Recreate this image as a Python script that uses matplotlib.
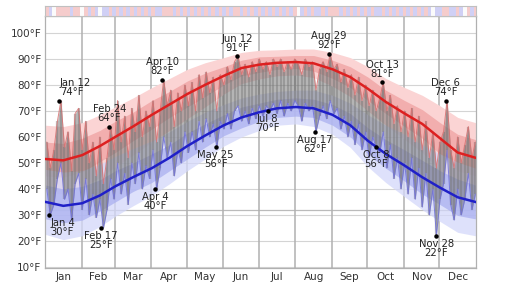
import numpy as np
import matplotlib
matplotlib.use("Agg")
import matplotlib.pyplot as plt

# ---------------- data ----------------
month_labels = ["Jan", "Feb", "Mar", "Apr", "May", "Jun",
                "Jul", "Aug", "Sep", "Oct", "Nov", "Dec"]
month_lengths = [31, 28, 31, 30, 31, 30, 31, 31, 30, 31, 30, 31]
ytick_values = [10, 20, 30, 40, 50, 60, 70, 80, 90, 100]
ytick_labels = ["10°F", "20°F", "30°F", "40°F", "50°F", "60°F",
                "70°F", "80°F", "90°F", "100°F"]

# normals (day of year, 0-based)
norm_days = [0, 15, 31, 46, 59, 74, 90, 105, 120, 135, 151, 166, 181,
             196, 212, 227, 243, 258, 273, 288, 304, 319, 334, 349, 364]
avg_high = [51.5, 51, 53, 56.5, 60, 64, 68.5, 72.5, 76.5, 80, 83.5, 86.5, 87.8,
            88.5, 88.8, 88.3, 86, 83, 78.5, 73.5, 69, 65, 59.5, 54, 52]
avg_low = [35, 33.5, 34.5, 37.5, 41, 44.5, 48, 52, 56.5, 60.5, 64.5, 67.5, 69.5,
           71, 71.5, 71, 68.5, 64.5, 58.5, 53.5, 49, 44.5, 40.5, 36.8, 35]
# half widths of percentile bands (10-90 and 25-75)
high_band90 = [13, 13, 12.5, 12, 11.5, 11, 10.5, 10, 9.5, 8.5, 7, 6, 5.5,
               5, 5, 5.5, 6.5, 7.5, 8.5, 9, 10, 11, 12.5, 13.5, 13.5]
high_band75 = [6.5, 6.5, 6.5, 6, 6, 5.5, 5.5, 5, 5, 4.5, 3.5, 3, 3,
               2.5, 2.5, 3, 3.5, 4, 4.5, 4.5, 5, 5.5, 6, 7, 7]
low_band90 = [12.5, 13, 12.5, 12, 11.5, 11, 10.5, 10, 9.5, 9, 8, 7.5, 7,
              6.5, 6.5, 7, 7.5, 8.5, 10, 11, 12, 12.5, 13, 13.5, 13]
low_band75 = [6.5, 6.5, 6.5, 6, 6, 5.5, 5.5, 5, 5, 4.5, 4, 4, 3.5,
              3.5, 3.5, 3.5, 4, 4.5, 5, 5.5, 6, 6.5, 6.5, 7, 6.5]

# daily observations, every third day of the year
sample_days = list(range(0, 365, 3))
daily_high = [
    58, 48, 55, 66, 74, 56, 62, 47, 69, 71, 55,          # Jan
    66, 50, 58, 45, 60, 42, 52, 64, 55,                  # Feb
    74, 58, 68, 52, 71, 62, 76, 60, 70, 64,              # Mar
    74, 58, 70, 82, 72, 78, 64, 77, 70, 80,              # Apr
    72, 81, 70, 84, 75, 85, 77, 83, 70, 84, 80,          # May
    87, 82, 89, 91, 84, 88, 83, 89, 85, 90,              # Jun
    86, 89, 84, 90, 87, 90, 85, 89, 86, 90,              # Jul
    88, 84, 90, 87, 89, 78, 86, 89, 85, 92, 86,          # Aug
    88, 81, 86, 79, 84, 76, 83, 74, 80,                  # Sep
    72, 78, 70, 75, 81, 70, 76, 65, 72, 62, 70,          # Oct
    60, 71, 58, 68, 55, 66, 52, 62, 48, 58,              # Nov
    62, 74, 55, 48, 60, 50, 57, 64, 52, 58,              # Dec
]
daily_low = [
    40, 30, 34, 44, 50, 36, 40, 28, 42, 46, 32,
    44, 30, 38, 29, 36, 25, 32, 44, 36,
    50, 38, 46, 34, 50, 42, 54, 40, 49, 44,
    55, 40, 48, 60, 52, 58, 45, 55, 50, 62,
    54, 62, 55, 66, 58, 67, 60, 65, 56, 66, 63,
    69, 63, 70, 72, 66, 70, 65, 71, 67, 72,
    68, 72, 70, 73, 69, 74, 68, 73, 70, 74,
    72, 66, 73, 70, 72, 62, 68, 72, 67, 74, 69,
    71, 63, 68, 60, 66, 57, 65, 55, 62,
    52, 60, 56, 54, 62, 48, 57, 44, 52, 40, 50,
    38, 52, 36, 48, 33, 46, 30, 40, 22, 36,
    42, 55, 34, 28, 40, 30, 36, 46, 32, 38,
]

# annotated extremes
ann_labels = ["Jan 12", "Feb 24", "Apr 10", "Jun 12", "Aug 29", "Oct 13", "Dec 6",
              "Jan 4", "Feb 17", "Apr 4", "May 25", "Jul 8", "Aug 17", "Oct 8", "Nov 28"]
ann_days = [11, 54, 99, 162, 240, 285, 339,
            3, 47, 93, 144, 188, 228, 280, 331]
ann_temps = [74, 64, 82, 91, 92, 81, 74,
             30, 25, 40, 56, 70, 62, 56, 22]
ann_is_high = [True] * 7 + [False] * 8

# ---------------- figure ----------------
W, H = 520, 288
fig = plt.figure(figsize=(W / 100, H / 100), dpi=100)
left_px, right_px, top_px, bottom_px = 45, 476, 16, 268
ax = fig.add_axes([left_px / W, 1 - bottom_px / H,
                   (right_px - left_px) / W, (bottom_px - top_px) / H])
ax_strip = fig.add_axes([left_px / W, 1 - top_px / H,
                         (right_px - left_px) / W, 10 / H])

xn = np.array(norm_days) + 0.5
ah = np.array(avg_high)
al = np.array(avg_low)

# percentile bands
ax.fill_between(xn, ah - np.array(high_band90), ah + np.array(high_band90),
                color="#fbd4d4", lw=0, zorder=1)
ax.fill_between(xn, ah - np.array(high_band75), ah + np.array(high_band75),
                color="#f2aeae", lw=0, zorder=1.1)
ax.fill_between(xn, al - np.array(low_band90), al + np.array(low_band90),
                color="#d4d8fa", lw=0, alpha=0.75, zorder=1.2)
ax.fill_between(xn, al - np.array(low_band75), al + np.array(low_band75),
                color="#aab0f0", lw=0, alpha=0.75, zorder=1.3)

# grid
for v in ytick_values:
    ax.axhline(v, color="#d4d4d4", lw=0.8, zorder=0.5)
ax.axhline(32, color="#bbbbbb", lw=0.9, zorder=0.5)
month_starts = np.cumsum([0] + month_lengths)
for m in month_starts[1:-1]:
    ax.axvline(m, color="#b0b0b0", lw=1.1, zorder=0.6)

# daily range
xs = np.array(sample_days) + 1.5
dh = np.array(daily_high)
dl = np.array(daily_low)
ax.fill_between(xs, dl, dh, color="#747474", alpha=0.5, lw=0, zorder=2)
ax.vlines(xs, dl, dh, color="#747474", alpha=0.45, lw=1.6, zorder=2.1)
ax.plot(xs, dh, color="#d87070", lw=0.7, alpha=0.85, zorder=2.5)
ax.plot(xs, dl, color="#7070d8", lw=0.7, alpha=0.85, zorder=2.5)

# averages
ax.plot(xn, ah, color="#dd2020", lw=1.8, zorder=3)
ax.plot(xn, al, color="#2020c8", lw=1.8, zorder=3)

# annotations
for lab, d, t, hi in zip(ann_labels, ann_days, ann_temps, ann_is_high):
    x = d + 0.5
    ax.plot([x], [t], "o", color="black", ms=2.2, zorder=5)
    txt = f"{lab}\n{t}°F"
    ha = "center"
    dx = 0
    if x < 15:
        ha = "left"
        dx = 1
    if hi:
        ax.annotate(txt, (x, t), xytext=(dx, 2.5), textcoords="offset points",
                    ha=ha, va="bottom", fontsize=7.2, color="#222222",
                    linespacing=0.9, zorder=6)
    else:
        ax.annotate(txt, (x, t), xytext=(dx, -2), textcoords="offset points",
                    ha=ha, va="top", fontsize=7.2, color="#222222",
                    linespacing=0.9, zorder=6)

ax.set_xlim(0, 365)
ax.set_ylim(9.6, 106.5)
ax.set_yticks(ytick_values)
ax.set_yticklabels(ytick_labels)
mid = (month_starts[:-1] + month_starts[1:]) / 2
ax.set_xticks(mid)
ax.set_xticklabels(month_labels)
ax.tick_params(axis="both", length=0, labelsize=7.5, colors="#333333")
ax.tick_params(axis="y", pad=2.5)
ax.tick_params(axis="x", pad=3)
for s in ax.spines.values():
    s.set_color("#b0b0b0")
    s.set_linewidth(0.9)

# anomaly strip
ah_s = np.interp(xs, xn, ah)
al_s = np.interp(xs, xn, al)
strip_colors = []
for h, l, nh, nl in zip(dh, dl, ah_s, al_s):
    if h > nh and l > nl:
        strip_colors.append("#f5cccc")
    elif h < nh and l < nl:
        strip_colors.append("#d0d0f5")
    else:
        strip_colors.append("#fbfbfb")
ax_strip.bar(np.array(sample_days), 1, width=3, align="edge",
             color=strip_colors, lw=0)
ax_strip.set_xlim(0, 365)
ax_strip.set_ylim(0, 1)
ax_strip.set_xticks([])
ax_strip.set_yticks([])
for s in ax_strip.spines.values():
    s.set_color("#c0c0c0")
    s.set_linewidth(0.8)

fig.savefig("out.png", dpi=100)
